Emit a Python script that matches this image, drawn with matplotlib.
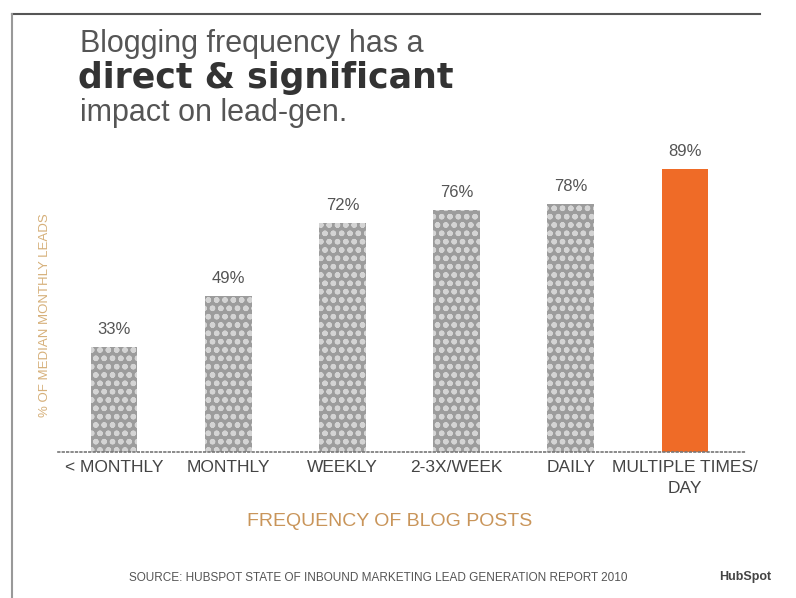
import matplotlib
matplotlib.use("Agg")
from matplotlib import pyplot as plt
from matplotlib.lines import Line2D

categories = ["< MONTHLY", "MONTHLY", "WEEKLY", "2-3X/WEEK", "DAILY", "MULTIPLE TIMES/\nDAY"]
values = [33, 49, 72, 76, 78, 89]
value_labels = ["33%", "49%", "72%", "76%", "78%", "89%"]

plt.rcParams['font.family'] = ['Liberation Sans', 'DejaVu Sans']
plt.rcParams['hatch.linewidth'] = 1.6

fig = plt.figure(figsize=(7.96, 5.98), dpi=100)
ax = fig.add_axes([58 / 796, 146 / 598, 687 / 796, 318 / 598])

# 灰色格子柱 + 最后一根橙色
x = range(len(values))
colors = ['#9c9c9c'] * (len(values) - 1) + ['#ef6b27']
bars = ax.bar(x, values, width=0.41, color=colors, linewidth=0)
for b in bars[:-1]:
    b.set_hatch('oo')
    b.set_edgecolor('#d4d4d4')

for xi, v, lab in zip(x, values, value_labels):
    ax.text(xi, v + 3.2, lab, ha='center', va='bottom', fontsize=12, color='#555555')

ax.set_xlim(-0.49, 5.525)
ax.set_ylim(0, 100)
ax.set_xticks(list(x))
ax.set_xticklabels(categories, fontsize=12.5, color='#444444', linespacing=1.5, va='top')
ax.tick_params(axis='x', length=0, pad=6)
ax.set_yticks([])
for s in ['top', 'right', 'left']:
    ax.spines[s].set_visible(False)
ax.spines['bottom'].set_linestyle(':')
ax.spines['bottom'].set_color('#777777')
ax.spines['bottom'].set_linewidth(1.2)

# 坐标轴标题
fig.text(45 / 796, 1 - 315 / 598, "% OF MEDIAN MONTHLY LEADS", rotation=90,
         ha='center', va='center', fontsize=9.5, color='#d6b07a')
fig.text(390 / 796, 1 - 521 / 598, "FREQUENCY OF BLOG POSTS", ha='center', va='center',
         fontsize=14, color='#c9955a')

# 标题
fig.text(80 / 796, 1 - 44 / 598, "Blogging frequency has a", ha='left', va='center',
         fontsize=22, color='#555555')
fig.text(78 / 796, 1 - 78 / 598, "direct & significant", ha='left', va='center',
         fontsize=25, color='#333333', fontweight='bold', family='DejaVu Sans')
fig.text(80 / 796, 1 - 113 / 598, "impact on lead-gen.", ha='left', va='center',
         fontsize=22, color='#555555')

# 来源
fig.text(378 / 796, 1 - 578 / 598,
         "SOURCE: HUBSPOT STATE OF INBOUND MARKETING LEAD GENERATION REPORT 2010",
         ha='center', va='center', fontsize=8.5, color='#555555')
fig.text(745 / 796, 1 - 577 / 598, "HubSpot", ha='center', va='center',
         fontsize=9, color='#444444', fontweight='bold')

# 外框
fig.add_artist(Line2D([12 / 796, 760 / 796], [1 - 14 / 598, 1 - 14 / 598],
                      color='#555555', linewidth=1.5))
fig.add_artist(Line2D([12 / 796, 12 / 796], [1 - 14 / 598, 0], color='#999999', linewidth=1.5))

fig.savefig("out.png", dpi=100)
